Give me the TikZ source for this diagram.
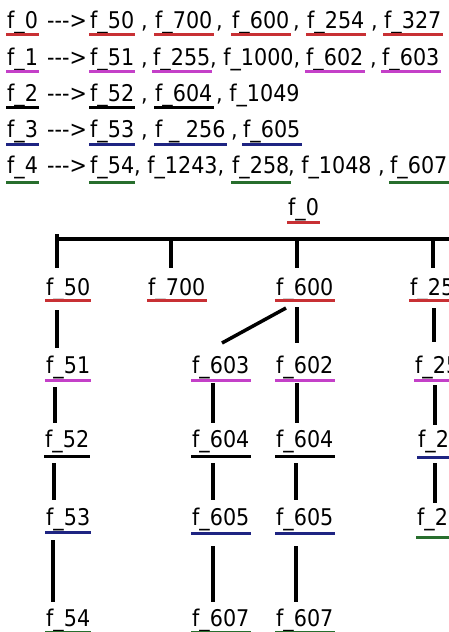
\documentclass[tikz,border=0pt]{standalone}
\usepackage{fontspec}
\setmainfont{DejaVu Sans}[FakeStretch=0.9]
\definecolor{ured}{RGB}{200,48,52}
\definecolor{umag}{RGB}{196,64,200}
\definecolor{unavy}{RGB}{30,36,130}
\definecolor{ugreen}{RGB}{40,110,45}
\newcommand\utok[6]{%
  \node[tok] (#1) at (#2,#3) {#4};
  \draw[ul,#5] ([xshift=-1pt,yshift=-#6pt]#1.base west) -- ([xshift=1pt,yshift=-#6pt]#1.base east);}
\newcommand\ptok[4]{\node[tok] (#1) at (#2,#3) {#4};}
\begin{document}
\begin{tikzpicture}[x=1pt,y=-1pt,
  tok/.style={inner sep=0pt,anchor=base west,font=\fontsize{23}{28}\selectfont},
  ul/.style={line width=3pt},
  edge/.style={line width=3.5pt,black}]
\useasboundingbox (0,0) rectangle (449,632);
\clip (0,0) rectangle (449,632);
% ---- list, line 1
\utok{la0}{7}{28}{f\_0}{ured}{6}
\ptok{lar0}{47}{28}{-{}-{}->}
\utok{la1}{90}{28}{f\_50}{ured}{6}
\ptok{lac1}{141}{28}{,}
\utok{la2}{155}{28}{f\_700}{ured}{6}
\ptok{lac2}{216}{28}{,}
\utok{la3}{232}{28}{f\_600}{ured}{6}
\ptok{lac3}{293}{28}{,}
\utok{la4}{307}{28}{f\_254}{ured}{6}
\ptok{lac4}{371}{28}{,}
\utok{la5}{384}{28}{f\_327}{ured}{6}
% ---- line 2
\utok{lb0}{7}{65}{f\_1}{umag}{6}
\ptok{lbr0}{47}{65}{-{}-{}->}
\utok{lb1}{90}{65}{f\_51}{umag}{6}
\ptok{lbc1}{141}{65}{,}
\utok{lb2}{153}{65}{f\_255}{umag}{6}
\ptok{lbc2}{210}{65}{, f\_1000,}
\utok{lb3}{306}{65}{f\_602}{umag}{6}
\ptok{lbc3}{370}{65}{,}
\utok{lb4}{382}{65}{f\_603}{umag}{6}
% ---- line 3
\utok{lc0}{7}{101}{f\_2}{black}{6}
\ptok{lcr0}{47}{101}{-{}-{}->}
\utok{lc1}{90}{101}{f\_52}{black}{6}
\ptok{lcc1}{141}{101}{,}
\utok{lc2}{155}{101}{f\_604}{black}{6}
\ptok{lcc2}{216}{101}{, f\_1049}
% ---- line 4
\utok{ld0}{7}{137}{f\_3}{unavy}{7}
\ptok{ldr0}{47}{137}{-{}-{}->}
\utok{ld1}{90}{137}{f\_53}{unavy}{7}
\ptok{ldc1}{141}{137}{,}
\utok{ld2}{155}{137}{f \_ 256}{unavy}{7}
\ptok{ldc2}{231}{137}{,}
\utok{ld3}{243}{137}{f\_605}{unavy}{7}
% ---- line 5
\utok{le0}{7}{173}{f\_4}{ugreen}{9}
\ptok{ler0}{47}{173}{-{}-{}->}
\utok{le1}{90}{173}{f\_54}{ugreen}{9}
\ptok{lec1}{134}{173}{, f\_1243,}
\utok{le2}{232}{173}{f\_258}{ugreen}{9}
\ptok{lec2}{288}{173}{, f\_1048 ,}
\utok{le3}{390}{173}{f\_607}{ugreen}{9}
% ---- tree nodes
\utok{t0}{288}{215}{f\_0}{ured}{7}
\utok{t50}{46}{295}{f\_50}{ured}{5}
\utok{t700}{148}{295}{f\_700}{ured}{5}
\utok{t600}{276}{295}{f\_600}{ured}{5}
\utok{t254}{410}{295}{f\_254}{ured}{5}
\utok{t51}{46}{373}{f\_51}{umag}{7}
\utok{t603}{192}{373}{f\_603}{umag}{7}
\utok{t602}{276}{373}{f\_602}{umag}{7}
\utok{t255}{415}{373}{f\_255}{umag}{7}
\utok{t52}{45}{447}{f\_52}{black}{9}
\utok{t604a}{192}{447}{f\_604}{black}{9}
\utok{t604b}{276}{447}{f\_604}{black}{9}
\utok{t256}{418}{447}{f\_256}{unavy}{10}
\utok{t53}{46}{525}{f\_53}{unavy}{7}
\utok{t605a}{192}{525}{f\_605}{unavy}{8}
\utok{t605b}{276}{525}{f\_605}{unavy}{8}
\utok{t258}{417}{525}{f\_258}{ugreen}{12}
\utok{t54}{46}{626}{f\_54}{ugreen}{6}
\utok{t607a}{192}{626}{f\_607}{ugreen}{6}
\utok{t607b}{276}{626}{f\_607}{ugreen}{6}
% ---- connectors
\coordinate (barL) at (57,239);
\coordinate (barR) at (460,239);
\draw[edge] (barL) -- (barR);
\foreach \n/\xa/\ya/\xb/\yb in {
  ea/57/234/57/268, eb/171/239/171/268, ec/297/239/297/268, ed/433/239/433/268,
  ee/57/310/57/348, ef/55/387/55/423, eg/54/463/54/500, eh/53/540/53/602,
  ei/286/308/222/343, ej/297/307/297/343,
  ek/213/383/213/423, el/297/383/297/423,
  em/213/463/213/500, en/296/463/296/500,
  eo/213/546/213/602, ep/296/546/296/602,
  eq/434/308/434/342, er/435/385/435/425, es/435/463/435/503}{
  \coordinate (\n-s) at (\xa,\ya);
  \coordinate (\n-e) at (\xb,\yb);
  \draw[edge] (\n-s) -- (\n-e);
}
\end{tikzpicture}
\end{document}
